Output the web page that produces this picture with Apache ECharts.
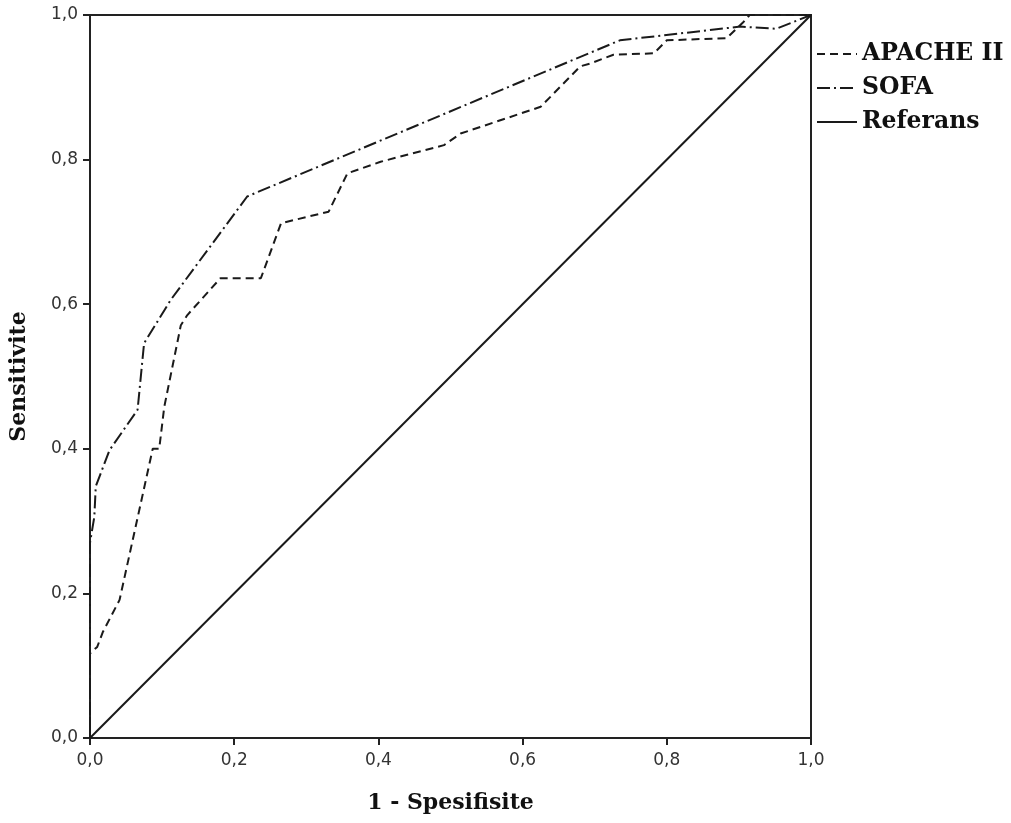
<!DOCTYPE html>
<html>
<head>
<meta charset="utf-8">
<script src="https://cdn.jsdelivr.net/npm/echarts@6/dist/echarts.min.js"></script>
<style>
  html, body { margin: 0; padding: 0; background: #fff; }
  #chart { width: 1011px; height: 823px; }
</style>
</head>
<body>
<div id="chart"></div>
<script>
// ROC curve points (1 - specificity, sensitivity)
const apacheX = [0, 0, 0.01, 0.018, 0.029, 0.041, 0.087, 0.096, 0.103, 0.126, 0.135, 0.181, 0.237, 0.265, 0.331, 0.357, 0.403, 0.491, 0.514, 0.625, 0.680, 0.694, 0.726, 0.782, 0.800, 0.883, 0.906, 0.915, 1]
const apacheY = [0, 0.117, 0.126, 0.147, 0.168, 0.191, 0.400, 0.400, 0.458, 0.571, 0.585, 0.636, 0.636, 0.712, 0.728, 0.781, 0.797, 0.820, 0.836, 0.873, 0.929, 0.933, 0.945, 0.947, 0.965, 0.968, 0.990, 1, 1]
const sofaX = [0, 0, 0.006, 0.008, 0.027, 0.066, 0.075, 0.112, 0.218, 0.735, 0.902, 0.952, 1]
const sofaY = [0, 0.27, 0.306, 0.348, 0.398, 0.454, 0.546, 0.606, 0.749, 0.965, 0.984, 0.981, 1]
const refX = [0, 1]
const refY = [0, 1]
const seriesNames = ['APACHE II', 'SOFA', 'Referans']

const pairs = (xs, ys) => xs.map((x, i) => [x, ys[i]])

const chart = echarts.init(document.getElementById('chart'))

const tickFmt = v => v.toFixed(1).replace('.', ',')
const titleFont = {
  fontFamily: 'DejaVu Serif',
  fontWeight: 'bold',
  fontSize: 22,
  color: '#111'
}
const axisCommon = {
  type: 'value',
  min: 0,
  max: 1,
  interval: 0.2,
  nameLocation: 'middle',
  nameTextStyle: titleFont,
  axisLine: { show: true, lineStyle: { color: '#222', width: 2 } },
  axisTick: { show: true, length: 7, lineStyle: { color: '#222', width: 2 } },
  axisLabel: {
    fontFamily: 'DejaVu Sans',
    fontSize: 17,
    color: '#333',
    formatter: tickFmt
  },
  splitLine: { show: false }
}

const lineColor = '#1a1a1a'

const option = {
  backgroundColor: '#fff',
  animation: false,
  grid: {
    left: 89,
    right: 200,
    top: 15,
    bottom: 85,
    show: true,
    borderColor: '#222',
    borderWidth: 2
  },
  legend: {
    orient: 'vertical',
    left: 811,
    top: 37,
    itemWidth: 40,
    itemHeight: 12,
    itemGap: 10,
    data: seriesNames,
    itemStyle: { opacity: 0 },
    textStyle: {
      fontFamily: 'DejaVu Serif',
      fontWeight: 'bold',
      fontSize: 23.5,
      color: '#111'
    }
  },
  xAxis: Object.assign({}, axisCommon, {
    name: '1 - Spesifisite',
    nameGap: 54,
    axisLabel: Object.assign({}, axisCommon.axisLabel, { margin: 14 })
  }),
  yAxis: Object.assign({}, axisCommon, {
    name: 'Sensitivite',
    nameGap: 60,
    axisLabel: Object.assign({}, axisCommon.axisLabel, { margin: 12 })
  }),
  series: [
    {
      name: seriesNames[0],
      type: 'line',
      data: pairs(apacheX, apacheY),
      symbol: 'none',
      lineStyle: { color: lineColor, width: 2, type: [8, 5] },
      itemStyle: { color: lineColor }
    },
    {
      name: seriesNames[1],
      type: 'line',
      data: pairs(sofaX, sofaY),
      symbol: 'none',
      lineStyle: { color: lineColor, width: 2, type: [13, 4, 2, 4] },
      itemStyle: { color: lineColor }
    },
    {
      name: seriesNames[2],
      type: 'line',
      data: pairs(refX, refY),
      symbol: 'none',
      lineStyle: { color: lineColor, width: 2, type: 'solid' },
      itemStyle: { color: lineColor }
    }
  ]
}

chart.setOption(option)
</script>
</body>
</html>
